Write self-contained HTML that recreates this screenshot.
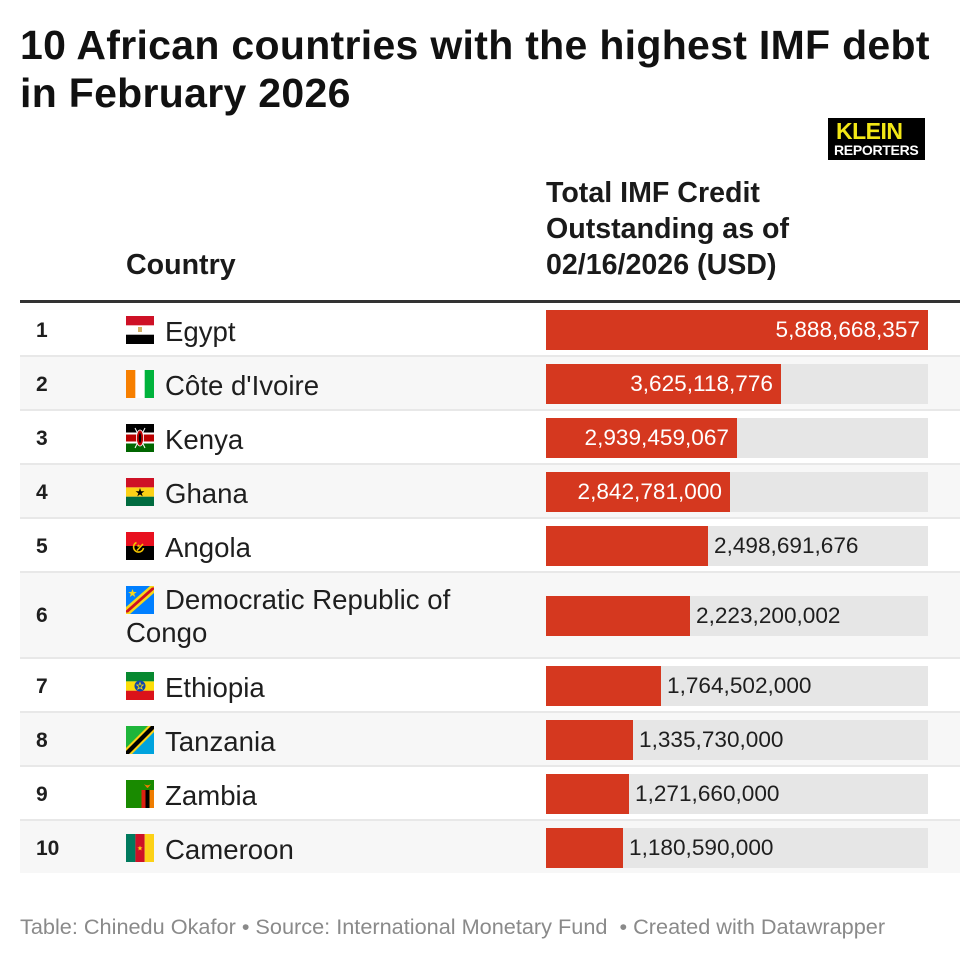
<!DOCTYPE html>
<html>
<head>
<meta charset="utf-8">
<style>
  html,body{margin:0;padding:0;background:#fff;}
  body{width:980px;height:960px;position:relative;overflow:hidden;font-family:"Liberation Sans",Arial,sans-serif;color:#1e1e1e;}
  .abs{position:absolute;}
  .title{left:20px;top:21px;font-size:41px;font-weight:bold;line-height:48px;letter-spacing:0.3px;color:#111;white-space:nowrap;}
  .logo{left:828px;top:118px;width:97px;height:42px;background:#000;}
  .logo .k{position:absolute;left:8px;top:1px;font-size:23px;font-weight:bold;color:#f3e716;line-height:25px;letter-spacing:-0.5px;}
  .logo .r{position:absolute;left:6px;top:25px;font-size:14px;font-weight:bold;color:#fff;line-height:14px;letter-spacing:-0.3px;}
  .hdr{font-size:28.6px;font-weight:bold;line-height:36px;color:#1a1a1a;white-space:nowrap;}
  .hline{left:20px;top:300px;width:940px;height:3px;background:#333;}
  .row{position:absolute;left:20px;width:940px;}
  .row.b{border-bottom:2px solid #e8e8e8;}
  .row.g{background:#f7f7f7;}
  .rank{position:absolute;left:16px;font-size:21px;font-weight:bold;line-height:21px;color:#1e1e1e;}
  .flag{position:absolute;left:106px;width:28px;height:28px;}
  .name{position:absolute;left:106px;width:380px;font-size:27.6px;line-height:33px;text-indent:39px;color:#1e1e1e;}
  .track{position:absolute;left:526px;width:382px;height:40px;background:#e6e6e6;}
  .bar{position:absolute;left:0;top:0;height:40px;background:#d5381f;}
  .lab{position:absolute;top:0;font-size:22.6px;line-height:40px;white-space:nowrap;}
  .in{color:#fff;text-align:right;}
  .out{color:#1e1e1e;}
  .foot{left:20px;top:916px;font-size:21.7px;line-height:21px;color:#8a8a8a;white-space:nowrap;}
</style>
</head>
<body>
<div class="abs title">10 African countries with the highest IMF debt<br>in February 2026</div>

<div class="abs logo"><div class="k">KLEIN</div><div class="r">REPORTERS</div></div>

<div class="abs hdr" style="left:126px;top:247px;">Country</div>
<div class="abs hdr" style="left:546px;top:175px;">Total IMF Credit<br>Outstanding as of<br>02/16/2026 (USD)</div>
<div class="abs hline"></div>

<!-- Row 1 Egypt -->
<div class="row b" style="top:303px;height:52px;">
  <div class="rank" style="top:17px;">1</div>
  <svg class="flag" style="top:13px;" viewBox="0 0 28 28"><rect width="28" height="9.4" fill="#ce1126"/><rect y="9.4" width="28" height="9.3" fill="#fff"/><rect y="18.7" width="28" height="9.3" fill="#000"/><rect x="12" y="11" width="4" height="5" fill="#d4b063"/></svg>
  <div class="name" style="top:12px;">Egypt</div>
  <div class="track" style="top:7px;"><div class="bar" style="width:382px;"></div><div class="lab in" style="left:0;width:374px;">5,888,668,357</div></div>
</div>

<!-- Row 2 Cote d'Ivoire -->
<div class="row b g" style="top:357px;height:52px;">
  <div class="rank" style="top:17px;">2</div>
  <svg class="flag" style="top:13px;" viewBox="0 0 28 28"><rect width="9.4" height="28" fill="#f77f00"/><rect x="9.4" width="9.3" height="28" fill="#fff"/><rect x="18.7" width="9.3" height="28" fill="#00b33c"/></svg>
  <div class="name" style="top:12px;">Côte d'Ivoire</div>
  <div class="track" style="top:7px;"><div class="bar" style="width:235px;"></div><div class="lab in" style="left:0;width:227px;">3,625,118,776</div></div>
</div>

<!-- Row 3 Kenya -->
<div class="row b" style="top:411px;height:52px;">
  <div class="rank" style="top:17px;">3</div>
  <svg class="flag" style="top:13px;" viewBox="0 0 28 28"><rect width="28" height="8.5" fill="#000"/><rect y="8.5" width="28" height="2" fill="#fff"/><rect y="10.5" width="28" height="7" fill="#bb0000"/><rect y="17.5" width="28" height="2" fill="#fff"/><rect y="19.5" width="28" height="8.5" fill="#006600"/><line x1="9" y1="4" x2="19" y2="24" stroke="#fff" stroke-width="1"/><line x1="19" y1="4" x2="9" y2="24" stroke="#fff" stroke-width="1"/><ellipse cx="14" cy="14" rx="3.6" ry="8" fill="#bb0000" stroke="#fff" stroke-width="0.8"/><ellipse cx="14" cy="14" rx="1.2" ry="5" fill="#000"/></svg>
  <div class="name" style="top:12px;">Kenya</div>
  <div class="track" style="top:7px;"><div class="bar" style="width:191px;"></div><div class="lab in" style="left:0;width:183px;">2,939,459,067</div></div>
</div>

<!-- Row 4 Ghana -->
<div class="row b g" style="top:465px;height:52px;">
  <div class="rank" style="top:17px;">4</div>
  <svg class="flag" style="top:13px;" viewBox="0 0 28 28"><rect width="28" height="9.4" fill="#ce1126"/><rect y="9.4" width="28" height="9.3" fill="#fcd116"/><rect y="18.7" width="28" height="9.3" fill="#006b3f"/><polygon points="14,10 15.1,13.2 18.4,13.2 15.7,15.2 16.7,18.4 14,16.4 11.3,18.4 12.3,15.2 9.6,13.2 12.9,13.2" fill="#000"/></svg>
  <div class="name" style="top:12px;">Ghana</div>
  <div class="track" style="top:7px;"><div class="bar" style="width:184px;"></div><div class="lab in" style="left:0;width:176px;">2,842,781,000</div></div>
</div>

<!-- Row 5 Angola -->
<div class="row b" style="top:519px;height:52px;">
  <div class="rank" style="top:17px;">5</div>
  <svg class="flag" style="top:13px;" viewBox="0 0 28 28"><rect width="28" height="14" fill="#e8101f"/><rect y="14" width="28" height="14" fill="#000"/><path d="M10.5,10.5 A5,5 0 1 0 17.5,16" fill="none" stroke="#f5c400" stroke-width="1.6"/><line x1="11" y1="18.5" x2="17" y2="12" stroke="#f5c400" stroke-width="1.6"/><polygon points="12.5,12 13,13.3 14.3,13.3 13.3,14.1 13.7,15.4 12.5,14.6 11.3,15.4 11.7,14.1 10.7,13.3 12,13.3" fill="#f5c400"/></svg>
  <div class="name" style="top:12px;">Angola</div>
  <div class="track" style="top:7px;"><div class="bar" style="width:162px;"></div><div class="lab out" style="left:168px;">2,498,691,676</div></div>
</div>

<!-- Row 6 DRC -->
<div class="row b g" style="top:573px;height:84px;">
  <div class="rank" style="top:32px;">6</div>
  <svg class="flag" style="top:13px;" viewBox="0 0 28 28"><rect width="28" height="28" fill="#007fff"/><polygon points="0,21 24,0 28,0 28,7 4,28 0,28" fill="#f7d618"/><polygon points="0,24.5 26,1.5 28,1.5 28,3.5 2,26.5 0,26.5" fill="#ce1021"/><polygon points="6.5,3 7.6,6 10.8,6 8.2,7.9 9.2,11 6.5,9.1 3.8,11 4.8,7.9 2.2,6 5.4,6" fill="#f7d618"/></svg>
  <div class="name" style="top:10px;">Democratic Republic of Congo</div>
  <div class="track" style="top:23px;"><div class="bar" style="width:144px;"></div><div class="lab out" style="left:150px;">2,223,200,002</div></div>
</div>

<!-- Row 7 Ethiopia -->
<div class="row b" style="top:659px;height:52px;">
  <div class="rank" style="top:17px;">7</div>
  <svg class="flag" style="top:13px;" viewBox="0 0 28 28"><rect width="28" height="9.4" fill="#078930"/><rect y="9.4" width="28" height="9.3" fill="#fcdd09"/><rect y="18.7" width="28" height="9.3" fill="#da121a"/><circle cx="14" cy="14" r="5.5" fill="#0f47af"/><polygon points="14,10.5 14.9,13 17.4,13 15.4,14.6 16.2,17.1 14,15.6 11.8,17.1 12.6,14.6 10.6,13 13.1,13" fill="none" stroke="#fcdd09" stroke-width="0.7"/></svg>
  <div class="name" style="top:12px;">Ethiopia</div>
  <div class="track" style="top:7px;"><div class="bar" style="width:115px;"></div><div class="lab out" style="left:121px;">1,764,502,000</div></div>
</div>

<!-- Row 8 Tanzania -->
<div class="row b g" style="top:713px;height:52px;">
  <div class="rank" style="top:17px;">8</div>
  <svg class="flag" style="top:13px;" viewBox="0 0 28 28"><polygon points="0,0 28,0 0,28" fill="#1eb53a"/><polygon points="28,0 28,28 0,28" fill="#00a3dd"/><polygon points="0,22 22,0 28,0 28,6 6,28 0,28" fill="#fcd116"/><polygon points="0,25 25,0 28,0 28,3 3,28 0,28" fill="#000"/></svg>
  <div class="name" style="top:12px;">Tanzania</div>
  <div class="track" style="top:7px;"><div class="bar" style="width:87px;"></div><div class="lab out" style="left:93px;">1,335,730,000</div></div>
</div>

<!-- Row 9 Zambia -->
<div class="row b" style="top:767px;height:52px;">
  <div class="rank" style="top:17px;">9</div>
  <svg class="flag" style="top:13px;" viewBox="0 0 28 28"><rect width="28" height="28" fill="#198a00"/><rect x="15.5" y="10" width="4" height="18" fill="#de2010"/><rect x="19.5" y="10" width="4" height="18" fill="#000"/><rect x="23.5" y="10" width="4.5" height="18" fill="#ef7d00"/><path d="M18,4 Q21.5,6.5 25,4 Q22.5,7.5 21.5,8 Q20.5,7.5 18,4Z" fill="#ef7d00"/></svg>
  <div class="name" style="top:12px;">Zambia</div>
  <div class="track" style="top:7px;"><div class="bar" style="width:83px;"></div><div class="lab out" style="left:89px;">1,271,660,000</div></div>
</div>

<!-- Row 10 Cameroon -->
<div class="row g" style="top:821px;height:52px;">
  <div class="rank" style="top:17px;">10</div>
  <svg class="flag" style="top:13px;" viewBox="0 0 28 28"><rect width="9.4" height="28" fill="#007a5e"/><rect x="9.4" width="9.3" height="28" fill="#ce1126"/><rect x="18.7" width="9.3" height="28" fill="#fcd116"/><polygon points="14,11.5 14.7,13.4 16.6,13.4 15.1,14.6 15.6,16.5 14,15.4 12.4,16.5 12.9,14.6 11.4,13.4 13.3,13.4" fill="#fcd116"/></svg>
  <div class="name" style="top:12px;">Cameroon</div>
  <div class="track" style="top:7px;"><div class="bar" style="width:77px;"></div><div class="lab out" style="left:83px;">1,180,590,000</div></div>
</div>

<div class="abs foot">Table: Chinedu Okafor • Source: International Monetary Fund &nbsp;• Created with Datawrapper</div>
</body>
</html>
